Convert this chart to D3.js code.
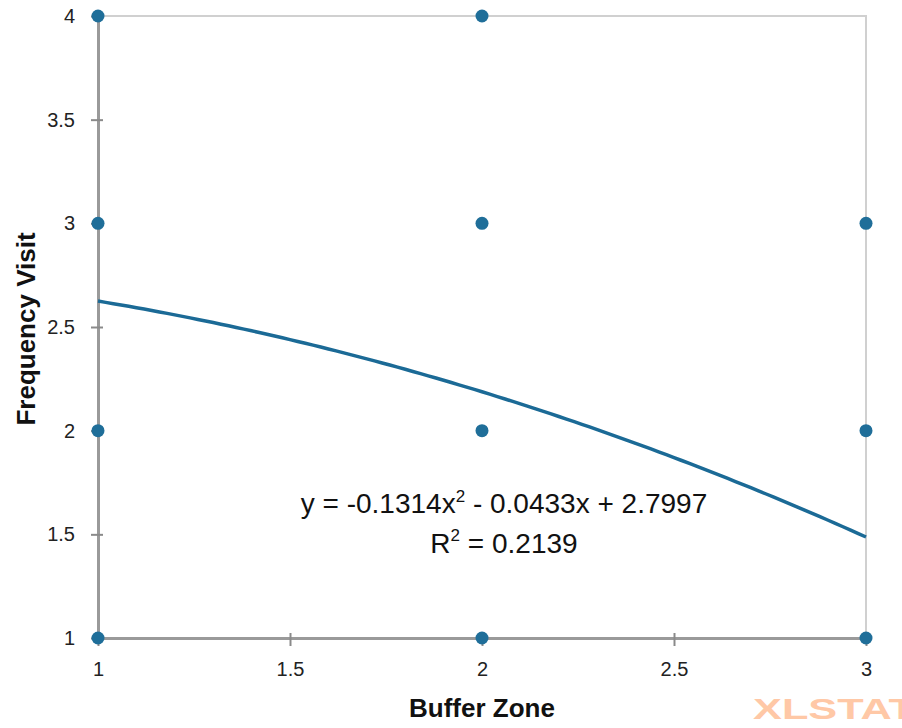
<!DOCTYPE html>
<html lang="en">
<head>
  <meta charset="utf-8">
  <title>Frequency Visit vs Buffer Zone</title>
  <script src="https://d3js.org/d3.v7.min.js"></script>
  <style>
    body { margin: 0; background: #fff; }
    text { font-family: "Liberation Sans", Arial, sans-serif; }
  </style>
</head>
<body>
  <script>
    var width = 902, height = 728;

    // observations (Buffer Zone, Frequency Visit)
    var bufferZone = [1, 1, 1, 1, 2, 2, 2, 2, 3, 3, 3];
    var freqVisit  = [4, 3, 2, 1, 4, 3, 2, 1, 3, 2, 1];
    // fitted polynomial trend: y = a x^2 + b x + c
    var coef = [-0.1314, -0.0433, 2.7997];
    var xTicks = [1, 1.5, 2, 2.5, 3];
    var yTicks = [1, 1.5, 2, 2.5, 3, 3.5, 4];

    var margin = {left: 98, right: 36, top: 16, bottom: 90};

    var svg = d3.select("body").append("svg")
      .attr("width", width)
      .attr("height", height);

    var x = d3.scaleLinear().domain([1, 3]).range([margin.left, width - margin.right]);
    var y = d3.scaleLinear().domain([1, 4]).range([height - margin.bottom, margin.top]);

    // light frame top / right
    svg.append("path")
      .attr("d", "M" + x(1) + "," + y(4) + "H" + x(3) + "V" + y(1))
      .attr("fill", "none")
      .attr("stroke", "#d0d0d0")
      .attr("stroke-width", 2);

    var xAxis = svg.append("g")
      .attr("transform", "translate(0," + y(1) + ")")
      .call(d3.axisBottom(x).tickValues(xTicks).tickSize(7).tickSizeOuter(0).tickFormat(d3.format("")));
    var yAxis = svg.append("g")
      .attr("transform", "translate(" + x(1) + ",0)")
      .call(d3.axisLeft(y).tickValues(yTicks).tickSize(7).tickSizeOuter(0).tickFormat(d3.format("")));

    [xAxis, yAxis].forEach(function(ax) {
      ax.attr("font-size", null).attr("font-family", null);
      ax.select(".domain").attr("stroke", "#9a9a9a").attr("stroke-width", 3);
      ax.selectAll(".tick line").attr("stroke", "#8a8a8a").attr("stroke-width", 2);
      ax.selectAll(".tick text").attr("fill", "#222").attr("font-size", 20);
    });
    // crossing tick marks
    xAxis.selectAll(".tick line").attr("y1", -5).attr("y2", 8);
    xAxis.selectAll(".tick text").attr("y", 24);
    yAxis.selectAll(".tick line").attr("x1", 5).attr("x2", -7);
    yAxis.selectAll(".tick text").attr("x", -23);

    // trend curve
    var curvePts = d3.range(1, 3.0001, 0.02).map(function(v) {
      return [v, coef[0] * v * v + coef[1] * v + coef[2]];
    });
    svg.append("path")
      .datum(curvePts)
      .attr("fill", "none")
      .attr("stroke", "#1b6a96")
      .attr("stroke-width", 3.5)
      .attr("d", d3.line().x(function(d) { return x(d[0]); }).y(function(d) { return y(d[1]); }));

    // points
    svg.append("g").selectAll("circle")
      .data(bufferZone)
      .enter().append("circle")
      .attr("cx", function(d) { return x(d); })
      .attr("cy", function(d, i) { return y(freqVisit[i]); })
      .attr("r", 6.5)
      .attr("fill", "#1f6e99");

    // equation label
    var eq = svg.append("text")
      .attr("x", 504).attr("y", 513)
      .attr("text-anchor", "middle")
      .attr("font-size", 28)
      .attr("fill", "#111");
    eq.append("tspan").text("y = -0.1314x");
    eq.append("tspan").attr("dy", -11).attr("font-size", 17).text("2");
    eq.append("tspan").attr("dy", 11).text(" - 0.0433x + 2.7997");

    var r2 = svg.append("text")
      .attr("x", 504).attr("y", 553)
      .attr("text-anchor", "middle")
      .attr("font-size", 28)
      .attr("fill", "#111");
    r2.append("tspan").text("R");
    r2.append("tspan").attr("dy", -12).attr("font-size", 17).text("2");
    r2.append("tspan").attr("dy", 12).text(" = 0.2139");

    // axis titles
    svg.append("text")
      .attr("x", x(2)).attr("y", 717)
      .attr("text-anchor", "middle")
      .attr("font-size", 26).attr("font-weight", "bold")
      .attr("fill", "#111")
      .text("Buffer Zone");
    svg.append("text")
      .attr("transform", "translate(35," + 329 + ") rotate(-90)")
      .attr("text-anchor", "middle")
      .attr("font-size", 26).attr("font-weight", "bold")
      .attr("fill", "#111")
      .text("Frequency Visit");

    // watermark
    svg.append("text")
      .attr("x", 753).attr("y", 719)
      .attr("font-size", 30).attr("font-weight", "bold")
      .attr("textLength", 162).attr("lengthAdjust", "spacingAndGlyphs")
      .attr("fill", "#ffc8a6")
      .text("XLSTAT");
  </script>
</body>
</html>
